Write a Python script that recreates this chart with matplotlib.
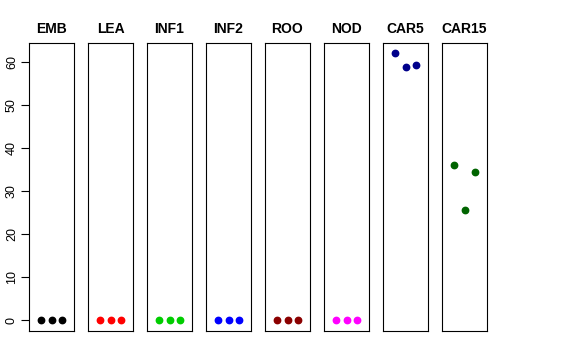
import numpy as np
import matplotlib.pyplot as plt

plt.rcParams['font.family'] = ['Liberation Sans', 'DejaVu Sans']

groups = ['EMB', 'LEA', 'INF1', 'INF2', 'ROO', 'NOD', 'CAR5', 'CAR15']
colors = ['black', 'red', '#00CD00', 'blue', '#8B0000', 'magenta', '#00008B', '#006400']
values = {
    'EMB': [0, 0, 0],
    'LEA': [0, 0, 0],
    'INF1': [0, 0, 0],
    'INF2': [0, 0, 0],
    'ROO': [0, 0, 0],
    'NOD': [0, 0, 0],
    'CAR5': [62.1, 58.9, 59.3],
    'CAR15': [36.0, 25.7, 34.5],
}
reps = [1, 2, 3]

fig = plt.figure(figsize=(5.76, 3.6), dpi=100)
W, H = 576, 360
left0, step, pw = 29, 59, 45
bottom, top = 331, 43

for i, g in enumerate(groups):
    ax = fig.add_axes([(left0 + i * step) / W, (H - bottom) / H, pw / W, (bottom - top) / H])
    ax.plot(reps, values[g], 'o', color=colors[i], markersize=4.6)
    ax.set_xlim(-0.16, 4.16)
    ax.set_ylim(-2.48, 64.48)
    ax.set_xticks([])
    ax.set_title(g, fontsize=10, fontweight='bold', pad=7)
    for s in ax.spines.values():
        s.set_linewidth(0.8)
    if i == 0:
        ax.set_yticks([0, 10, 20, 30, 40, 50, 60])
        ax.tick_params(axis='y', length=6, labelsize=9, pad=2)
        for lab in ax.get_yticklabels():
            lab.set_rotation(90)
            lab.set_va('center')
    else:
        ax.set_yticks([])

plt.savefig('out.png', dpi=100)
